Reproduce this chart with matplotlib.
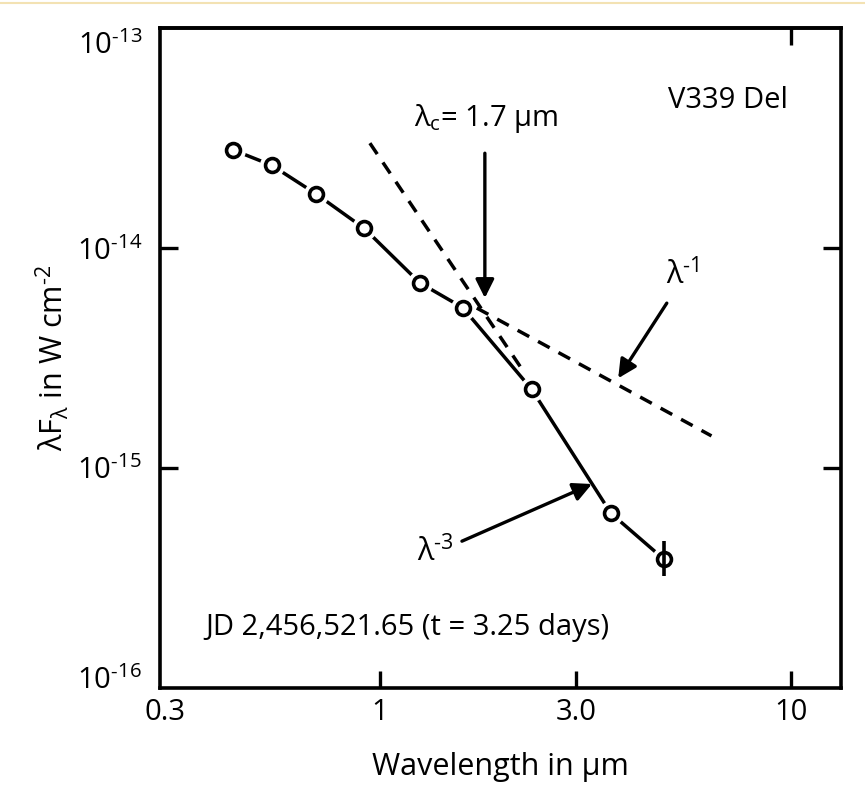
import numpy as np
import matplotlib.pyplot as plt
from matplotlib.lines import Line2D
from matplotlib.ticker import NullLocator
from matplotlib.transforms import ScaledTranslation

plt.rcParams['font.family'] = ['Open Sans', 'DejaVu Sans']
plt.rcParams['mathtext.fontset'] = 'custom'
plt.rcParams['mathtext.rm'] = 'Open Sans'
plt.rcParams['mathtext.it'] = 'Open Sans:italic'
plt.rcParams['mathtext.bf'] = 'Open Sans:bold'
plt.rcParams['mathtext.fallback'] = 'stixsans'

# V339 Del photometry, JD 2,456,521.65
wl = [0.44, 0.545, 0.70, 0.915, 1.25, 1.59, 2.34, 3.65, 4.91]
flux = [2.79e-14, 2.38e-14, 1.76e-14, 1.23e-14, 6.95e-15, 5.36e-15, 2.28e-15, 6.22e-16, 3.85e-16]
# error bar only on the last point
err_lo = [0.63e-16]
err_hi = [0.79e-16]

# power law guide lines (end points)
lam1_x = [1.72, 6.41]
lam1_y = [5.34e-15, 1.40e-15]
lam3_x = [0.945, 2.25]
lam3_y = [3.0e-14, 2.70e-15]

xticks = [0.3, 1, 3, 10]
xticklabels = ['0.3', '1', '3.0', '10']
yticks = [1e-16, 1e-15, 1e-14, 1e-13]
yticklabels = [r'$\mathrm{10^{‐16}}$', r'$\mathrm{10^{‐15}}$', r'$\mathrm{10^{‐14}}$', r'$\mathrm{10^{‐13}}$']

fig = plt.figure(figsize=(8.65, 7.95), dpi=100)
ax = fig.add_axes([0.185, 0.1346, 0.787, 0.830])
ax.set_xscale('log')
ax.set_yscale('log')
ax.set_xlim(0.2915, 13.23)
ax.set_ylim(1e-16, 1e-13)

lw = 2.5
dash = (0, (3.8, 2.9))
ax.plot(lam1_x, lam1_y, color='k', lw=lw, ls=dash, zorder=2)
ax.plot(lam3_x, lam3_y, color='k', lw=lw, ls=dash, zorder=2)

ax.plot(wl, flux, color='k', lw=lw, zorder=2)
ax.plot(wl, flux, 'o', ms=18, mfc='white', mec='none', zorder=3)
ax.plot(wl, flux, 'o', ms=10, mfc='white', mec='k', mew=2.6, zorder=4)
ax.errorbar(wl[-1:], flux[-1:], yerr=[err_lo, err_hi], fmt='none', ecolor='k',
            elinewidth=2.6, capsize=0, zorder=5)

for s in ax.spines.values():
    s.set_linewidth(2.6)

ax.set_xticks(xticks)
ax.set_xticklabels(xticklabels)
ax.xaxis.set_minor_locator(NullLocator())
ax.set_yticks(yticks)
ax.set_yticklabels(yticklabels)
ax.yaxis.set_minor_locator(NullLocator())
ax.tick_params(axis='x', direction='in', length=12, width=2.4, labelsize=21, pad=7)
ax.tick_params(axis='y', direction='in', length=13, width=2.4, labelsize=21, pad=13,
               right=True)
ax.xaxis.get_major_ticks()[0].tick1line.set_visible(False)
yt = ax.yaxis.get_major_ticks()
for i in (0, 3):
    yt[i].tick1line.set_visible(False)
    yt[i].tick2line.set_visible(False)
yt[0].label1.set_transform(yt[0].label1.get_transform()
                           + ScaledTranslation(0, 0.10, fig.dpi_scale_trans))
yt[3].label1.set_transform(yt[3].label1.get_transform()
                           + ScaledTranslation(0, -0.14, fig.dpi_scale_trans))

sec = ax.secondary_xaxis('top')
sec.set_xticks([10])
sec.set_xticklabels([])
sec.xaxis.set_minor_locator(NullLocator())
sec.tick_params(direction='in', length=12, width=2.4)
sec.spines['top'].set_linewidth(2.6)

ax.set_xlabel('Wavelength in µm', fontsize=22, labelpad=18)
ax.set_ylabel(r'$\mathrm{\lambda F_{\lambda}}$ in W cm$^{\mathrm{‐2}}$', fontsize=22, labelpad=4)

tr = ax.transAxes
ax.text(0.746, 0.891, 'V339 Del', transform=tr, fontsize=21, ha='left', va='center')
ax.text(0.479, 0.863, r'$\mathrm{\lambda_c}$= 1.7 µm', transform=tr, fontsize=21,
        ha='center', va='center')
ax.text(0.066, 0.092, 'JD 2,456,521.65 (t = 3.25 days)', transform=tr, fontsize=21,
        ha='left', va='center')
ax.text(0.768, 0.625, r'$\mathrm{\lambda^{‐1}}$', transform=tr, fontsize=22,
        ha='center', va='center')
ax.text(0.404, 0.206, r'$\mathrm{\lambda^{‐3}}$', transform=tr, fontsize=22,
        ha='center', va='center')

arrow = dict(arrowstyle='-|>', color='k', lw=2.4, mutation_scale=28, shrinkA=0, shrinkB=0)
ax.annotate('', xy=(1.80, 5.93e-15), xytext=(1.80, 2.70e-14), arrowprops=arrow)
ax.annotate('', xy=(3.80, 2.56e-15), xytext=(4.99, 5.62e-15), arrowprops=arrow)
ax.annotate('', xy=(3.28, 8.46e-16), xytext=(1.583, 4.65e-16), arrowprops=arrow)

fig.add_artist(Line2D([0, 1], [0.996, 0.996], transform=fig.transFigure,
                      color='#f3e2b3', lw=1.5))

fig.savefig('out.png', dpi=100)
